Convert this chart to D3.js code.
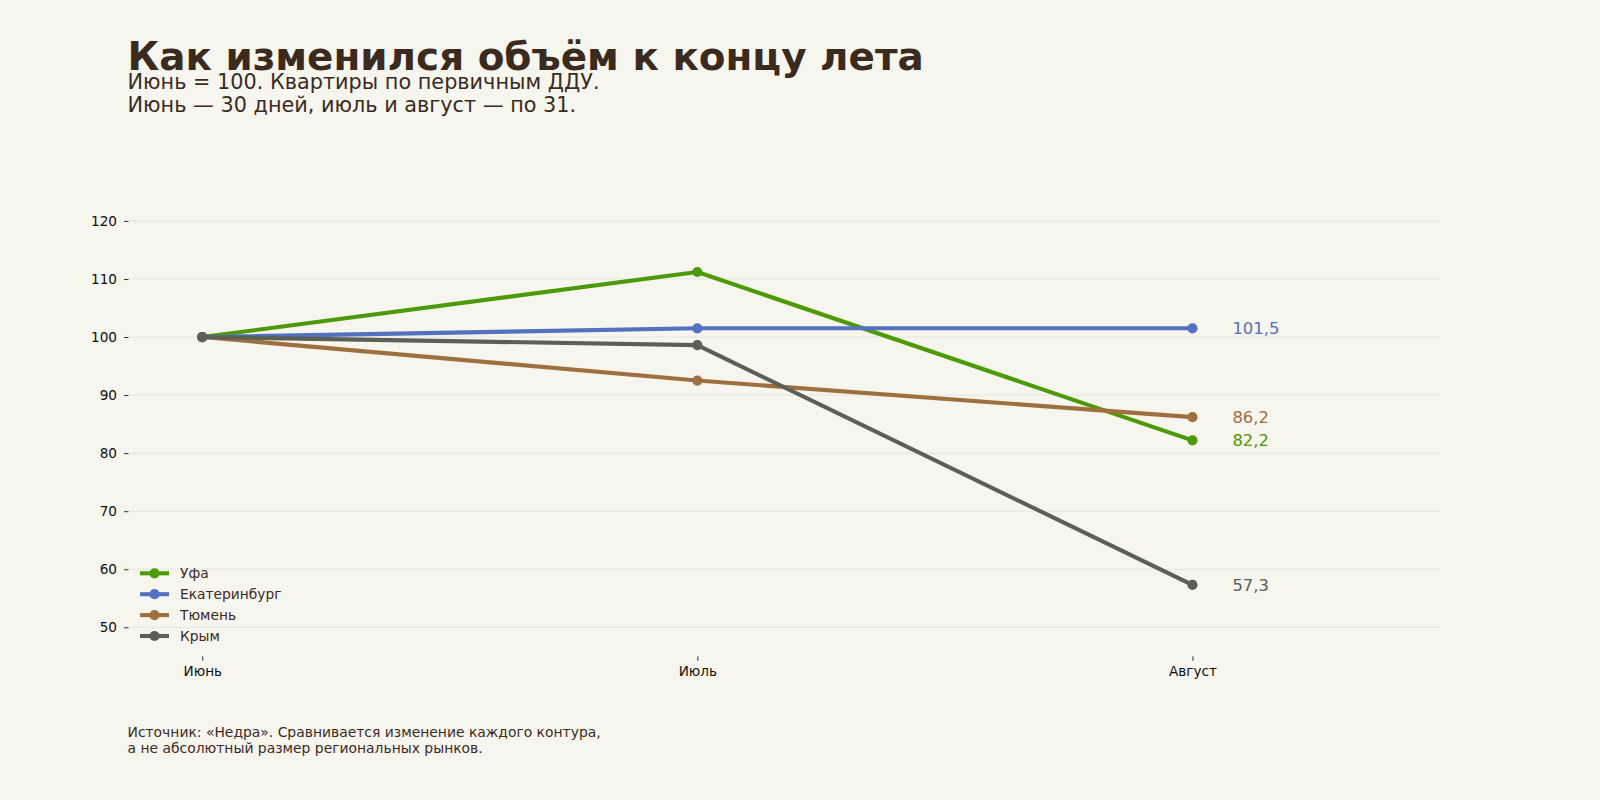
<!DOCTYPE html>
<html><head><meta charset="utf-8">
<script src="https://cdn.jsdelivr.net/npm/d3@7"></script>
<style>
body{margin:0;background:#f6f5ee;}
svg{display:block;font-family:"DejaVu Sans",sans-serif;}
</style></head><body>
<svg id="c" width="1600" height="800"></svg>
<script>
const months = ["Июнь","Июль","Август"];
const seriesNames = ["Уфа","Екатеринбург","Тюмень","Крым"];
const ufa = [100, 111.2, 82.2];
const ekb = [100, 101.5, 101.5];
const tyumen = [100, 92.5, 86.2];
const krym = [100, 98.6, 57.3];
const endLabels = ["82,2","101,5","86,2","57,3"];
const yTicks = [50,60,70,80,90,100,110,120];
const colors = ["#4b9a06","#5470c0","#9e7040","#5b6056"];

const data = [ufa, ekb, tyumen, krym];
const svg = d3.select("#c");
const x = d3.scaleLinear().domain([-0.15, 2.5]).range([128, 1440]);
const y = d3.scaleLinear().domain([45, 125]).range([656.3, 191.9]);
const ink = "#3b2b1e";

// title
svg.append("text").attr("x",127.5).attr("y",69.8).attr("font-size",38.9).attr("font-weight","bold")
  .attr("fill",ink).text("Как изменился объём к концу лета");
svg.append("text").attr("x",127.5).attr("y",88.8).attr("font-size",20.8).attr("fill",ink)
  .text("Июнь = 100. Квартиры по первичным ДДУ.");
svg.append("text").attr("x",127.5).attr("y",112.3).attr("font-size",20.8).attr("fill",ink)
  .text("Июнь — 30 дней, июль и август — по 31.");

// grid
svg.append("g").selectAll("line").data(yTicks).join("line")
  .attr("x1",128).attr("x2",1440).attr("y1",d=>y(d)).attr("y2",d=>y(d))
  .attr("stroke","#e4e3db").attr("stroke-width",0.9);

// y axis
const yAxis = d3.axisLeft(y).tickValues(yTicks).tickSize(4.5).tickPadding(7);
const gy = svg.append("g").attr("transform","translate(128.5,0)").call(yAxis);
gy.select(".domain").remove();
gy.selectAll("text").attr("font-size",13.6).attr("fill","#111").attr("font-family","DejaVu Sans");
gy.selectAll("line").attr("stroke","#333");

// x axis
const xAxis = d3.axisBottom(x).tickValues([0,1,2]).tickFormat(i=>months[i]).tickSize(4.5).tickPadding(5.5);
const gx = svg.append("g").attr("transform","translate(0,656.3)").call(xAxis);
gx.select(".domain").remove();
gx.selectAll("text").attr("font-size",13.6).attr("fill","#111").attr("font-family","DejaVu Sans");
gx.selectAll("line").attr("stroke","#333");

// lines
const line = d3.line().x((d,i)=>x(i)).y(d=>y(d));
data.forEach((s,k)=>{
  svg.append("path").datum(s).attr("d",line).attr("fill","none")
    .attr("stroke",colors[k]).attr("stroke-width",4.1).attr("stroke-linejoin","round");
  svg.append("g").selectAll("circle").data(s).join("circle")
    .attr("cx",(d,i)=>x(i)).attr("cy",d=>y(d)).attr("r",5.1).attr("fill",colors[k]);
  svg.append("text").attr("x",x(2)+40).attr("y",y(s[2])).attr("dy","0.35em")
    .attr("font-size",16.4).attr("fill",colors[k]).text(endLabels[k]);
});

// legend
const leg = svg.append("g");
seriesNames.forEach((n,k)=>{
  const yy = 573.3 + k*20.9;
  leg.append("line").attr("x1",140).attr("x2",169).attr("y1",yy).attr("y2",yy)
    .attr("stroke",colors[k]).attr("stroke-width",4.1);
  leg.append("circle").attr("cx",154.5).attr("cy",yy).attr("r",5.1).attr("fill",colors[k]);
  leg.append("text").attr("x",180).attr("y",yy).attr("dy","0.35em").attr("font-size",13.8)
    .attr("fill",ink).text(n);
});

// footer
svg.append("text").attr("x",127.5).attr("y",736.5).attr("font-size",13.9).attr("fill",ink)
  .text("Источник: «Недра». Сравнивается изменение каждого контура,");
svg.append("text").attr("x",127.5).attr("y",752.5).attr("font-size",13.9).attr("fill",ink)
  .text("а не абсолютный размер региональных рынков.");
</script>
</body></html>
